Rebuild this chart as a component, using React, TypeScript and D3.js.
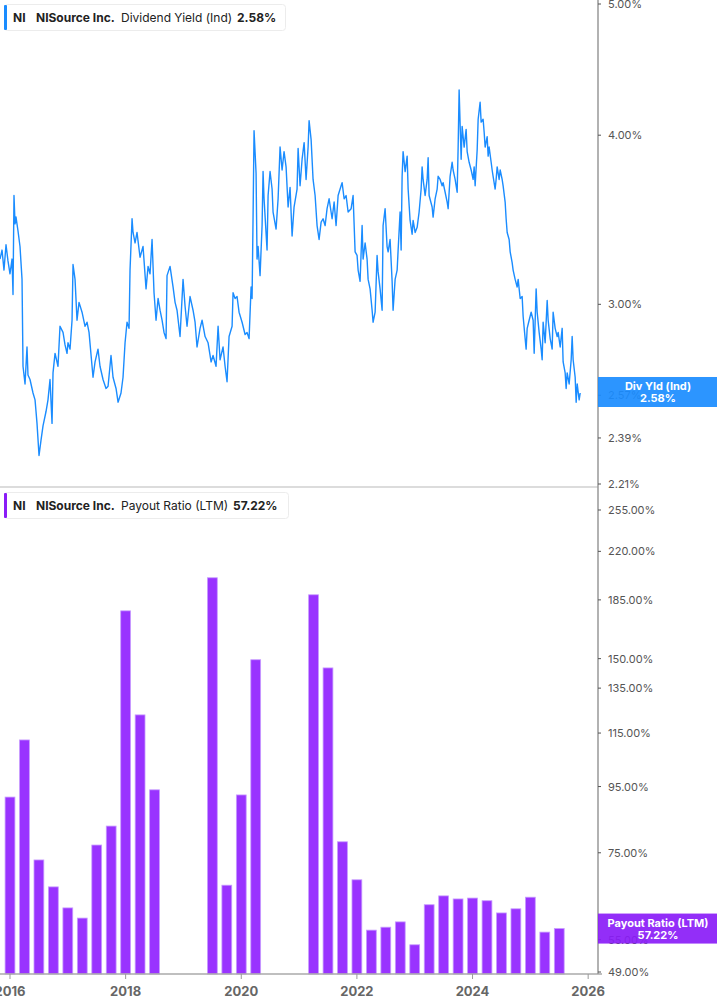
import React from "react";
import * as d3 from "d3";

// ---- Dividend yield (daily-ish samples, decimal years) ----
const yieldYears = [
  2015.827, 2015.862, 2015.896, 2015.931, 2015.965, 2016.0, 2016.035, 2016.052, 2016.069, 2016.087,
  2016.104, 2016.138, 2016.173, 2016.208, 2016.225, 2016.26, 2016.294, 2016.311, 2016.346, 2016.398,
  2016.433, 2016.45, 2016.467, 2016.502, 2016.536, 2016.571, 2016.623, 2016.657, 2016.692, 2016.727,
  2016.744, 2016.779, 2016.83, 2016.865, 2016.917, 2016.952, 2016.986, 2017.003, 2017.038, 2017.073,
  2017.09, 2017.125, 2017.159, 2017.194, 2017.246, 2017.298, 2017.332, 2017.367, 2017.419, 2017.436,
  2017.471, 2017.522, 2017.557, 2017.609, 2017.661, 2017.696, 2017.747, 2017.782, 2017.834, 2017.869,
  2017.92, 2017.955, 2017.99, 2018.024, 2018.059, 2018.076, 2018.111, 2018.128, 2018.163, 2018.197,
  2018.249, 2018.301, 2018.353, 2018.388, 2018.422, 2018.457, 2018.491, 2018.526, 2018.561, 2018.595,
  2018.63, 2018.664, 2018.699, 2018.716, 2018.768, 2018.82, 2018.855, 2018.889, 2018.941, 2018.993,
  2019.028, 2019.062, 2019.114, 2019.166, 2019.201, 2019.235, 2019.287, 2019.322, 2019.374, 2019.426,
  2019.478, 2019.512, 2019.564, 2019.599, 2019.633, 2019.685, 2019.72, 2019.754, 2019.789, 2019.841,
  2019.858, 2019.893, 2019.927, 2019.962, 2020.014, 2020.066, 2020.1, 2020.135, 2020.17, 2020.187,
  2020.204, 2020.221, 2020.256, 2020.273, 2020.291, 2020.325, 2020.36, 2020.377, 2020.394, 2020.446,
  2020.464, 2020.498, 2020.533, 2020.55, 2020.602, 2020.637, 2020.671, 2020.706, 2020.74, 2020.775,
  2020.81, 2020.844, 2020.879, 2020.913, 2020.965, 2020.983, 2021.017, 2021.052, 2021.087, 2021.121,
  2021.156, 2021.173, 2021.208, 2021.242, 2021.277, 2021.311, 2021.346, 2021.381, 2021.415, 2021.45,
  2021.484, 2021.519, 2021.571, 2021.606, 2021.64, 2021.675, 2021.727, 2021.744, 2021.779, 2021.813,
  2021.848, 2021.9, 2021.934, 2021.969, 2022.003, 2022.021, 2022.055, 2022.09, 2022.107, 2022.142,
  2022.176, 2022.194, 2022.228, 2022.263, 2022.28, 2022.315, 2022.349, 2022.367, 2022.401, 2022.436,
  2022.453, 2022.488, 2022.522, 2022.54, 2022.574, 2022.609, 2022.626, 2022.661, 2022.696, 2022.713,
  2022.747, 2022.765, 2022.782, 2022.799, 2022.834, 2022.869, 2022.886, 2022.92, 2022.955, 2022.972,
  2023.007, 2023.042, 2023.076, 2023.111, 2023.128, 2023.145, 2023.18, 2023.215, 2023.232, 2023.249,
  2023.301, 2023.318, 2023.353, 2023.388, 2023.405, 2023.439, 2023.474, 2023.491, 2023.526, 2023.561,
  2023.578, 2023.612, 2023.647, 2023.664, 2023.699, 2023.734, 2023.751, 2023.768, 2023.803, 2023.82,
  2023.855, 2023.889, 2023.907, 2023.941, 2023.976, 2024.01, 2024.028, 2024.045, 2024.08, 2024.097,
  2024.131, 2024.149, 2024.183, 2024.201, 2024.218, 2024.253, 2024.27, 2024.287, 2024.322, 2024.339,
  2024.356, 2024.391, 2024.408, 2024.426, 2024.46, 2024.478, 2024.512, 2024.529, 2024.564, 2024.581,
  2024.599, 2024.633, 2024.651, 2024.685, 2024.702, 2024.737, 2024.772, 2024.789, 2024.824, 2024.858,
  2024.875, 2024.91, 2024.927, 2024.945, 2024.979, 2025.014, 2025.048, 2025.066, 2025.1, 2025.118,
  2025.152, 2025.187, 2025.204, 2025.221, 2025.256, 2025.291, 2025.308, 2025.343, 2025.377, 2025.394,
  2025.429, 2025.464, 2025.481, 2025.516, 2025.55, 2025.567, 2025.602, 2025.619, 2025.637, 2025.671,
  2025.706, 2025.723, 2025.74, 2025.775, 2025.792, 2025.81, 2025.844, 2025.862,
];
const yieldValues = [
  3.24, 3.29, 3.18, 3.32, 3.23, 3.16, 3.24, 3.05, 3.61, 3.44,
  3.48, 3.4, 3.31, 3.13, 2.7, 2.62, 2.79, 2.66, 2.64, 2.58,
  2.55, 2.5, 2.45, 2.32, 2.38, 2.44, 2.5, 2.55, 2.64, 2.45,
  2.67, 2.76, 2.7, 2.89, 2.86, 2.8, 2.76, 2.81, 2.78, 2.92,
  3.21, 3.13, 2.92, 3.01, 2.96, 2.89, 2.91, 2.86, 2.7, 2.65,
  2.72, 2.78, 2.7, 2.64, 2.6, 2.61, 2.75, 2.65, 2.6, 2.54,
  2.58, 2.65, 2.81, 2.91, 2.88, 3.18, 3.47, 3.39, 3.33, 3.39,
  3.25, 3.31, 3.08, 3.2, 3.16, 3.35, 3.06, 2.92, 3.03, 2.97,
  2.92, 2.86, 2.83, 3.15, 3.2, 3.09, 3.01, 2.97, 2.84, 3.13,
  2.99, 2.89, 3.04, 2.97, 2.91, 2.79, 2.88, 2.92, 2.84, 2.81,
  2.72, 2.75, 2.7, 2.89, 2.73, 2.79, 2.7, 2.63, 2.84, 2.89,
  3.06, 3.03, 3.04, 2.96, 2.91, 2.85, 2.86, 2.83, 3.09, 3.03,
  3.48, 4.03, 3.75, 3.24, 3.31, 3.15, 3.43, 3.76, 3.59, 3.29,
  3.61, 3.76, 3.65, 3.51, 3.41, 3.59, 3.92, 3.77, 3.89, 3.79,
  3.54, 3.66, 3.37, 3.54, 3.65, 3.91, 3.67, 3.84, 3.95, 3.71,
  3.92, 4.1, 3.97, 3.71, 3.61, 3.43, 3.35, 3.45, 3.47, 3.43,
  3.53, 3.59, 3.47, 3.57, 3.43, 3.61, 3.67, 3.69, 3.59, 3.61,
  3.51, 3.53, 3.61, 3.28, 3.26, 3.18, 3.12, 3.43, 3.24, 3.33,
  3.24, 3.13, 3.08, 2.97, 2.91, 2.96, 3.26, 3.17, 3.08, 2.97,
  3.43, 3.53, 3.31, 3.28, 3.35, 3.12, 2.97, 3.13, 3.18, 3.29,
  3.51, 3.29, 3.73, 3.89, 3.76, 3.86, 3.65, 3.46, 3.38, 3.46,
  3.39, 3.42, 3.51, 3.65, 3.79, 3.71, 3.61, 3.71, 3.85, 3.61,
  3.54, 3.48, 3.59, 3.65, 3.73, 3.71, 3.67, 3.69, 3.63, 3.57,
  3.53, 3.73, 3.82, 3.77, 3.71, 3.63, 3.92, 4.32, 3.84, 4.06,
  3.92, 4.04, 3.89, 3.82, 3.77, 3.71, 3.79, 3.67, 3.9, 4.11,
  4.23, 4.09, 4.11, 4.02, 3.92, 3.99, 3.86, 3.92, 3.82, 3.77,
  3.73, 3.65, 3.71, 3.79, 3.71, 3.77, 3.71, 3.67, 3.57, 3.47,
  3.39, 3.35, 3.28, 3.22, 3.18, 3.13, 3.09, 3.13, 3.03, 3.04,
  2.94, 2.83, 2.78, 2.88, 2.92, 2.96, 2.92, 2.76, 3.08, 2.96,
  2.86, 2.78, 2.73, 2.91, 2.81, 3.02, 2.92, 2.83, 2.78, 2.96,
  2.88, 2.84, 2.86, 2.79, 2.88, 2.72, 2.67, 2.6, 2.67, 2.62,
  2.73, 2.84, 2.73, 2.65, 2.54, 2.62, 2.55, 2.58,
];

// ---- Payout ratio (quarterly, LTM) ----
const payoutQuarters = [
  "2015Q4",
  "2016Q1", "2016Q2", "2016Q3", "2016Q4",
  "2017Q1", "2017Q2", "2017Q3", "2017Q4",
  "2018Q1", "2018Q2", "2018Q3", "2018Q4",
  "2019Q1", "2019Q2", "2019Q3", "2019Q4",
  "2020Q1", "2020Q2", "2020Q3", "2020Q4",
  "2021Q1", "2021Q2", "2021Q3", "2021Q4",
  "2022Q1", "2022Q2", "2022Q3", "2022Q4",
  "2023Q1", "2023Q2", "2023Q3", "2023Q4",
  "2024Q1", "2024Q2", "2024Q3", "2024Q4",
  "2025Q1", "2025Q2",
];
const payoutValues: (number | null)[] = [
  91.5,
  112.2, 73.1, 66.4, 61.6,
  59.4, 77.1, 82.5, 177.9,
  122.7, 93.9, null, null,
  null, 200.2, 66.8, 92.2,
  149.4, null, null, null,
  188.4, 145.1, 78.0, 68.1,
  56.9, 57.5, 58.6, 54.0,
  62.3, 64.3, 63.6, 63.8,
  63.2, 60.5, 61.4, 64.0,
  56.5, 57.22,
];

const yieldTicks = [5.0, 4.0, 3.0, 2.57, 2.39, 2.21];
const payoutTicks = [255, 220, 185, 150, 135, 115, 95, 75, 55, 49];
const yearTicks = [2016, 2018, 2020, 2022, 2024, 2026];

const W = 717;
const H = 1005;
const AXIS_X = 598;
const FONT = "Inter, 'Noto Sans', sans-serif";
const BLUE = "#1a8cff";
const PURPLE = "#9933ff";

function quarterToYear(q: string): number {
  const y = +q.slice(0, 4);
  const n = +q.slice(5);
  return y + n / 4;
}

export default function App() {
  const x = d3.scaleLinear().domain([2015.827, 2026.17]).range([0, AXIS_X]);
  const yTop = d3.scaleLog().domain([2.21, 5.0]).range([484, 4]);
  const yBot = d3.scaleLog().domain([49, 255]).range([972, 510]);

  const pts = yieldYears.map((t, i) => [t, yieldValues[i]] as [number, number]);
  const line = d3
    .line<[number, number]>()
    .x((d) => x(d[0]))
    .y((d) => yTop(d[1]))(pts);

  const step = x(2016.25) - x(2016);
  const barW = step * 0.68;
  const baseY = 974;

  const legend = (
    y0: number,
    color: string,
    label: string,
    value: string,
    w: number,
    valueX: number
  ) => (
    <g>
      <rect x={4.5} y={y0 + 0.5} width={w} height={26} rx={3} fill="#fff" stroke="#ececec" />
      <rect x={4} y={y0 + 1} width={3} height={25} rx={1} fill={color} />
      <g fontFamily={FONT} fontSize={12} fill="#222">
        <text x={13} y={y0 + 17.5} fontWeight={700}>NI</text>
        <text x={36} y={y0 + 17.5} fontWeight={700}>NISource Inc.</text>
        <text x={121} y={y0 + 17.5} fontWeight={400}>{label}</text>
        <text x={valueX} y={y0 + 17.5} fontWeight={700}>{value}</text>
      </g>
    </g>
  );

  return (
    <svg
      width={W}
      height={H}
      style={{ position: "absolute", left: 0, top: 0, background: "#fff" }}
    >
      <rect x={0} y={0} width={W} height={H} fill="#fff" />
      {/* separator between panels */}
      <line x1={0} x2={AXIS_X} y1={487} y2={487} stroke="#dcdcdc" strokeWidth={2} />

      {/* top line */}
      <path d={line || ""} fill="none" stroke={BLUE} strokeWidth={1.4} strokeLinejoin="round" />

      {/* bars */}
      {payoutQuarters.map((q, i) => {
        const v = payoutValues[i];
        if (v == null) return null;
        const cx = x(quarterToYear(q));
        const top = yBot(v);
        return (
          <rect
            key={q}
            x={cx - barW / 2}
            y={top}
            width={barW}
            height={baseY - top}
            fill={PURPLE}
            stroke="#c79bff"
            strokeWidth={0.8}
          />
        );
      })}

      {/* bottom axis */}
      <line x1={0} x2={AXIS_X + 4} y1={baseY} y2={baseY} stroke="#aaa" strokeWidth={1.5} />
      {yearTicks.map((t) => (
        <g key={t}>
          <line x1={x(t)} x2={x(t)} y1={baseY} y2={baseY + 5} stroke="#999" strokeWidth={1} />
          <text
            x={x(t)}
            y={996}
            textAnchor="middle"
            fontFamily={FONT}
            fontSize={13}
            fontWeight={700}
            fill="#666"
          >
            {t}
          </text>
        </g>
      ))}

      {/* right axis */}
      <line x1={AXIS_X} x2={AXIS_X} y1={0} y2={baseY} stroke="#999" strokeWidth={1.5} />
      {yieldTicks.map((v) => (
        <g key={"t" + v}>
          <line x1={AXIS_X} x2={AXIS_X + 3} y1={yTop(v)} y2={yTop(v)} stroke="#555" />
          <text
            x={608}
            y={yTop(v) + 4}
            fontFamily={FONT}
            fontSize={11}
            fill="#555"
          >
            {v.toFixed(2)}%
          </text>
        </g>
      ))}
      {payoutTicks.map((v) => (
        <g key={"b" + v}>
          <line x1={AXIS_X} x2={AXIS_X + 3} y1={yBot(v)} y2={yBot(v)} stroke="#555" />
          <text
            x={608}
            y={yBot(v) + 4}
            fontFamily={FONT}
            fontSize={11}
            fill="#555"
          >
            {v.toFixed(2)}%
          </text>
        </g>
      ))}

      {/* current value labels */}
      <rect x={AXIS_X} y={yTop(2.58) - 16} width={W - AXIS_X} height={30} fill={BLUE} fillOpacity={0.92} />
      <g fontFamily={FONT} fontSize={11} fontWeight={700} fill="#fff" textAnchor="middle">
        <text x={658} y={yTop(2.58) - 3}>Div Yld (Ind)</text>
        <text x={658} y={yTop(2.58) + 9}>2.58%</text>
      </g>
      <rect x={AXIS_X} y={yBot(57.22) - 15} width={W - AXIS_X} height={30} fill="#8a1cf7" fillOpacity={0.92} />
      <g fontFamily={FONT} fontSize={11} fontWeight={700} fill="#fff" textAnchor="middle">
        <text x={658} y={yBot(57.22) - 2}>Payout Ratio (LTM)</text>
        <text x={658} y={yBot(57.22) + 10}>57.22%</text>
      </g>

      {/* legends */}
      {legend(4, BLUE, "Dividend Yield (Ind)", "2.58%", 281, 237)}
      {legend(492, "#8a1cf7", "Payout Ratio (LTM)", "57.22%", 284, 233)}
    </svg>
  );
}
